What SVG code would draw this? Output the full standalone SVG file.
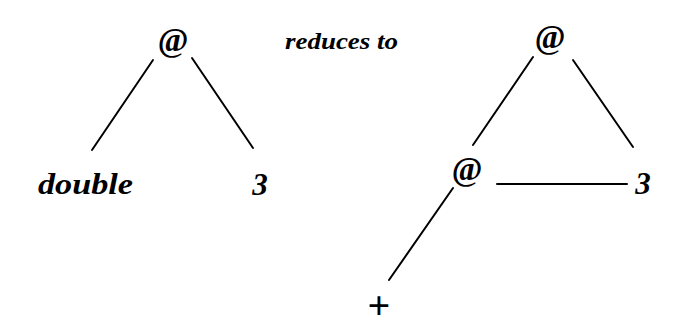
<svg xmlns="http://www.w3.org/2000/svg" width="678" height="330" viewBox="0 0 678 330">
<style>
.lbl{font-family:"Liberation Serif","Times New Roman",serif;font-weight:bold;font-style:italic;fill:#000}
.at{font-family:"Liberation Serif","Times New Roman",serif;font-weight:bold;font-size:33px;fill:#000;text-anchor:middle}
.edge{stroke:#000;stroke-width:2;fill:none;stroke-linecap:round}
</style>
<rect width="678" height="330" fill="#fff"/>
<g id="connectors">
<line class="edge" x1="153" y1="60" x2="92" y2="150"/>
<line class="edge" x1="192" y1="58" x2="253" y2="148"/>
<line class="edge" x1="533" y1="57" x2="473" y2="145"/>
<line class="edge" x1="573" y1="60" x2="633" y2="147"/>
<line class="edge" x1="497" y1="184" x2="627" y2="184"/>
<line class="edge" x1="453" y1="188" x2="389" y2="280"/>
</g>
<g id="app1"><text class="at" x="173" y="51">@</text></g>
<g id="double"><text class="lbl" x="38" y="194" font-size="29" textLength="95" lengthAdjust="spacingAndGlyphs">double</text></g>
<g id="three1"><text class="lbl" x="260" y="195" font-size="31" text-anchor="middle">3</text></g>
<g id="reduces"><text class="lbl" x="285" y="49" font-size="24" textLength="113" lengthAdjust="spacingAndGlyphs">reduces to</text></g>
<g id="app2"><text class="at" x="550" y="48">@</text></g>
<g id="app3"><text class="at" x="467" y="180">@</text></g>
<g id="three2"><text class="lbl" x="643" y="194" font-size="31" text-anchor="middle">3</text></g>
<g id="plus"><text x="379" y="319" font-family="'Liberation Serif',serif" font-weight="bold" font-size="40" text-anchor="middle">+</text></g>
</svg>
